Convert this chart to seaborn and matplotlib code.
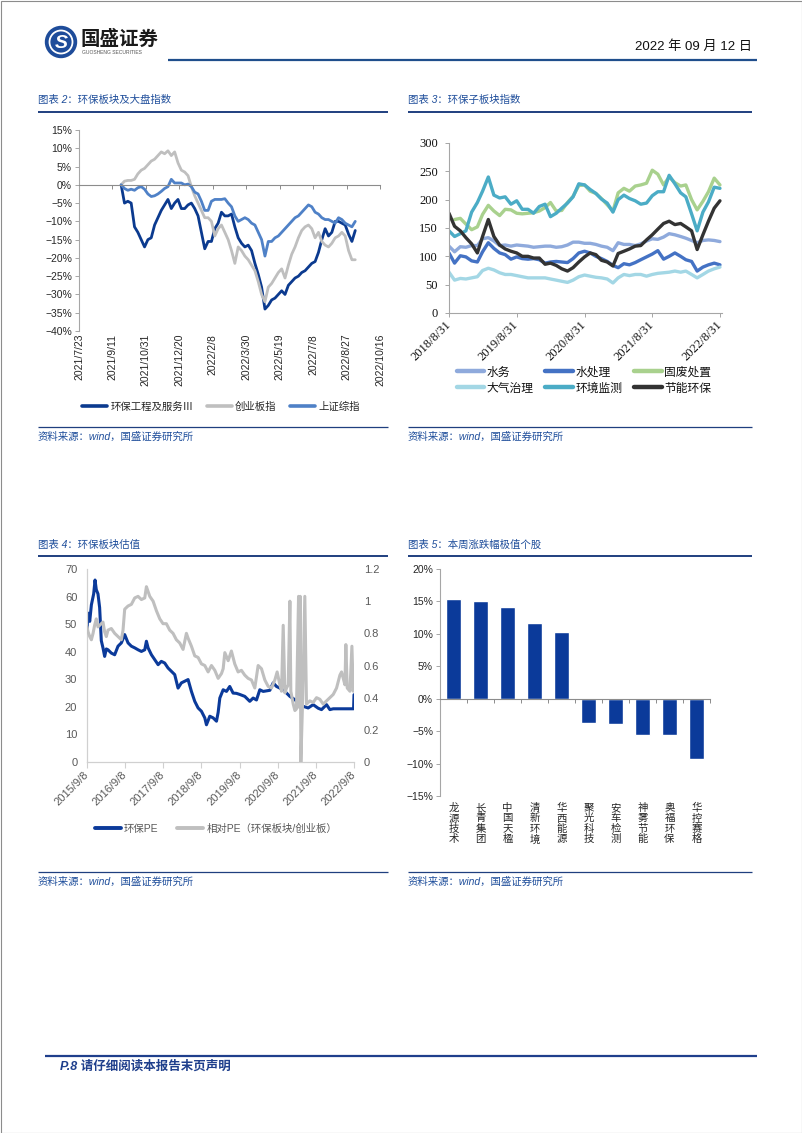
import numpy as np
import pandas as pd
import matplotlib
matplotlib.use("Agg")
import matplotlib.pyplot as plt
import matplotlib.dates as mdates
from matplotlib.lines import Line2D
from matplotlib.patches import Circle, Rectangle
import seaborn as sns

# ---------------- data ----------------
# 图表2 (5-day sampling starting 2021-09-24)
c2_start = "2021-09-24"
c2_names = ["环保工程及服务Ⅲ", "创业板指", "上证综指"]
c2_env = [0, -5, -4.5, -5, -11.5, -13, -15, -17, -15, -14.5,
          -11, -9, -7, -5.5, -4, -6.5, -5, -4, -6.5, -6.5,
          -5.5, -5, -6.5, -8.5, -13, -17.5, -15.5, -15.5, -12, -10.5,
          -7.5, -8.5, -8.5, -8, -11.5, -14.5, -16, -17, -16.5, -18,
          -21.5, -24.5, -28, -34, -33, -31.5, -31, -30, -29, -30,
          -27.5, -26.5, -25.5, -25, -24, -23.5, -22.5, -21.5, -21, -18.5,
          -15, -12, -14, -13, -10, -10, -10.5, -11, -13.5, -15.5, -12.5]
c2_gem = [0, 1, 1.2, 1.2, 1.5, 3, 4, 4.5, 5.5, 6.5,
          7, 8, 9, 8.5, 9.3, 8, 9, 6, 4, 3.5,
          2.5, -0.5, -3, -5, -7, -9, -9, -10, -14, -12,
          -11, -13, -15, -18, -21.5, -17, -18, -19.5, -20.5, -22,
          -23.5, -26.5, -30, -32, -28, -27, -25.5, -24, -23, -25.5,
          -22, -19, -17, -14.5, -12.5, -11.5, -11, -12, -14.5, -13,
          -15.5, -16.5, -17, -16, -14.5, -14, -13, -14, -18, -20.5, -20.5]
c2_sh = [0, -1, -1.5, -1.2, -1.5, -0.8, -0.5, -1.2, -2.5, -3.2,
         -3, -2.5, -1.8, -1, -0.5, 1.5, 0.5, 0.5, 0.5, 0,
         0.2, -0.5, -2, -2.5, -4.5, -7, -7, -4.5, -4, -4,
         -4, -3.8, -5, -6, -8.5, -10, -9.5, -9, -9.5, -10.5,
         -11, -13, -15, -19.5, -15.5, -15.5, -14.5, -14, -13, -12,
         -11, -10, -9, -8.5, -7.5, -6.5, -5.5, -6, -7.5, -8,
         -9, -9.5, -9.5, -10, -10.5, -9, -9.5, -10.5, -11, -11.5, -10]
c2_ticks = ["2021/7/23", "2021/9/11", "2021/10/31", "2021/12/20", "2022/2/8",
            "2022/3/30", "2022/5/19", "2022/7/8", "2022/8/27", "2022/10/16"]

# 图表3 (month ends 2018-08-31 .. 2022-08-31)
c3_names = ["水务", "水处理", "固废处置", "大气治理", "环境监测", "节能环保"]
c3_water = [118, 108, 117, 116, 119, 119, 131, 133, 127, 119,
            120, 118, 120, 119, 118, 116, 117, 118, 118, 116,
            117, 120, 125, 125, 123, 123, 121, 118, 116, 110,
            124, 121, 121, 119, 122, 127, 131, 130, 134, 140,
            138, 135, 132, 128, 124, 128, 129, 128, 126]
c3_treat = [106, 88, 101, 99, 92, 90, 108, 124, 114, 106,
            103, 95, 99, 96, 95, 96, 94, 88, 90, 91,
            90, 89, 96, 106, 109, 106, 100, 96, 91, 84,
            80, 87, 85, 89, 94, 99, 104, 110, 95, 100,
            106, 100, 94, 91, 74, 81, 85, 88, 85]
c3_waste = [np.nan, 165, 167, 157, 147, 152, 174, 190, 180, 172,
            183, 182, 176, 175, 176, 177, 180, 186, 195, 180,
            181, 195, 206, 225, 226, 215, 211, 202, 191, 180,
            212, 220, 215, 224, 226, 229, 252, 245, 226, 240,
            230, 224, 226, 200, 182, 197, 214, 238, 226]
c3_air = [72, 58, 61, 60, 62, 64, 75, 79, 76, 71,
          68, 68, 66, 64, 62, 62, 62, 62, 60, 58,
          56, 54, 58, 64, 67, 65, 63, 62, 60, 53,
          62, 68, 66, 68, 68, 65, 68, 70, 71, 72,
          74, 72, 74, 68, 62, 68, 74, 78, 81]
c3_monitor = [145, 135, 140, 145, 178, 195, 215, 240, 208, 203,
              205, 192, 198, 183, 183, 176, 188, 192, 170, 176,
              185, 194, 205, 228, 226, 218, 211, 201, 194, 178,
              200, 208, 202, 198, 192, 194, 207, 214, 214, 243,
              228, 212, 205, 175, 145, 178, 196, 222, 220]
c3_energy = [176, 153, 145, 133, 122, 106, 135, 165, 135, 120,
             113, 109, 106, 100, 100, 97, 97, 86, 88, 84,
             78, 74, 80, 90, 99, 106, 103, 93, 90, 83,
             105, 109, 113, 118, 119, 129, 138, 148, 158, 162,
             156, 158, 152, 145, 112, 138, 162, 185, 198]
c3_ticks = ["2018/8/31", "2019/8/31", "2020/8/31", "2021/8/31", "2022/8/31"]

# 图表4
c4_names = ["环保PE", "相对PE（环保板块/创业板）"]
c4_pe_dates = ["2015-09-08", "2015-09-18", "2015-10-04", "2015-10-20", "2015-11-11", "2015-11-24", "2015-12-06", "2015-12-22", "2016-01-07", "2016-01-23",
               "2016-02-08", "2016-02-24", "2016-03-11", "2016-03-27", "2016-04-28", "2016-05-30", "2016-07-01", "2016-08-02", "2016-09-03", "2016-10-05",
               "2016-11-06", "2016-12-08", "2017-01-09", "2017-02-10", "2017-03-14", "2017-03-30", "2017-04-15", "2017-05-17", "2017-06-18", "2017-07-20",
               "2017-08-20", "2017-09-21", "2017-10-23", "2017-11-24", "2017-12-26", "2018-01-27", "2018-02-28", "2018-04-01", "2018-05-03", "2018-06-04",
               "2018-07-06", "2018-08-07", "2018-09-08", "2018-10-10", "2018-10-26", "2018-11-27", "2018-12-29", "2019-01-30", "2019-02-15", "2019-03-03",
               "2019-04-04", "2019-05-06", "2019-06-06", "2019-07-08", "2019-08-09", "2019-09-10", "2019-10-28", "2019-12-15", "2020-01-16", "2020-02-17",
               "2020-03-20", "2020-04-21", "2020-06-24", "2020-07-26", "2020-08-27", "2020-09-28", "2020-11-15", "2021-01-02", "2021-02-19", "2021-04-07",
               "2021-05-09", "2021-06-26", "2021-08-13", "2021-09-30", "2021-11-01", "2021-12-19", "2022-01-20", "2022-02-21", "2022-09-04", "2022-09-08"]
c4_pe = [48, 54, 51, 57, 61, 66, 62.5, 61, 56, 44,
         41.4, 38.3, 41, 40.7, 39.5, 38.9, 42, 43.2, 46.2, 43.2,
         42, 41.4, 40.7, 40.1, 40.7, 43.8, 41.4, 38.9, 37.1, 35.3,
         36.5, 35.9, 34.1, 32.9, 31.7, 26.8, 28.7, 29.3, 29.9, 25.6,
         22, 19.6, 18.4, 16, 13.5, 16.6, 16, 14.8, 18, 23.2,
         26.2, 25.6, 27.4, 25, 24.9, 24.5, 23.8, 22, 23.2, 22.5,
         26.2, 25.6, 26, 28.7, 27.4, 26.8, 25.6, 23.8, 22.6, 20.8,
         20.2, 19.6, 20.8, 19.5, 19, 20.8, 19, 19.3, 19.3, 24.4]
c4_rel_dates = ["2015-09-08", "2015-09-18", "2015-10-04", "2015-10-20", "2015-11-05", "2015-11-20", "2015-12-06", "2015-12-22", "2016-01-23", "2016-02-08",
                "2016-02-24", "2016-03-11", "2016-03-27", "2016-04-28", "2016-05-30", "2016-07-01", "2016-08-02", "2016-08-18", "2016-09-03", "2016-10-05",
                "2016-11-06", "2016-12-08", "2017-01-09", "2017-02-10", "2017-03-14", "2017-03-30", "2017-04-15", "2017-05-01", "2017-06-02", "2017-07-04",
                "2017-08-05", "2017-09-05", "2017-10-07", "2017-11-08", "2017-12-10", "2018-01-11", "2018-02-12", "2018-03-16", "2018-04-17", "2018-05-03",
                "2018-06-04", "2018-07-06", "2018-08-07", "2018-09-08", "2018-10-10", "2018-11-11", "2018-12-13", "2019-01-14", "2019-02-15", "2019-03-19",
                "2019-04-04", "2019-04-20", "2019-05-22", "2019-06-22", "2019-07-24", "2019-08-25", "2019-09-26", "2019-10-28", "2019-11-29", "2019-12-31",
                "2020-02-01", "2020-03-04", "2020-04-05", "2020-05-07", "2020-06-08", "2020-07-10", "2020-08-11", "2020-09-02", "2020-09-28", "2020-10-14",
                "2020-10-30", "2020-11-15", "2020-12-01", "2020-12-17", "2021-01-02", "2021-01-11", "2021-02-03", "2021-02-19", "2021-03-06", "2021-03-26",
                "2021-04-01", "2021-04-11", "2021-04-17", "2021-05-03", "2021-05-25", "2021-06-10", "2021-07-12", "2021-08-13", "2021-09-14", "2021-10-16",
                "2021-11-17", "2021-12-19", "2022-01-20", "2022-02-21", "2022-03-25", "2022-04-26", "2022-05-12", "2022-05-28", "2022-06-13", "2022-06-22",
                "2022-07-05", "2022-07-31", "2022-08-19", "2022-09-01", "2022-09-08"]
c4_rel = [0.84, 0.81, 0.78, 0.76, 0.80, 0.85, 0.89, 0.84, 0.86, 0.87,
          0.81, 0.78, 0.82, 0.83, 0.80, 0.78, 0.76, 0.82, 0.95, 0.97,
          0.98, 1.02, 1.03, 1.01, 1.02, 1.09, 1.06, 1.03, 1.00, 0.94,
          0.89, 0.86, 0.86, 0.82, 0.80, 0.76, 0.74, 0.70, 0.80, 0.77,
          0.72, 0.66, 0.65, 0.61, 0.60, 0.56, 0.60, 0.57, 0.52, 0.55,
          0.58, 0.68, 0.63, 0.69, 0.61, 0.56, 0.57, 0.54, 0.52, 0.51,
          0.46, 0.60, 0.58, 0.51, 0.47, 0.46, 0.51, 0.56, 0.48, 0.44,
          0.85, 0.43, 0.46, 0.48, 1.00, 0.44, 0.36, 0.32, 0.33, 1.03,
          0.34, 1.03, 0.00, 0.36, 1.03, 0.36, 0.38, 0.37, 0.40, 0.39,
          0.36, 0.38, 0.40, 0.42, 0.46, 0.54, 0.56, 0.52, 0.48, 0.73,
          0.46, 0.44, 0.72, 0.44, 0.49]
c4_ticks = ["2015/9/8", "2016/9/8", "2017/9/8", "2018/9/8", "2019/9/8",
            "2020/9/8", "2021/9/8", "2022/9/8"]
c4_left_ticks = [0, 10, 20, 30, 40, 50, 60, 70]
c4_right_ticks = [0, 0.2, 0.4, 0.6, 0.8, 1.0, 1.2]
c4_right_labels = ["0", "0.2", "0.4", "0.6", "0.8", "1", "1.2"]

# 图表5
c5_names = ["龙源技术", "长青集团", "中国天楹", "清新环境", "华西能源",
            "聚光科技", "安车检测", "神雾节能", "奥福环保", "华控赛格"]
c5_vals = [15.3, 15.0, 14.2, 11.7, 10.3, -3.8, -3.9, -5.6, -5.6, -9.3]

# ---------------- style ----------------
sns.set_theme(style="ticks")
plt.rcParams["font.family"] = ["Liberation Sans", "Noto Sans CJK SC", "DejaVu Sans"]
plt.rcParams["axes.unicode_minus"] = True

W, H = 802, 1133
fig = plt.figure(figsize=(W / 100, H / 100), dpi=100)
fig.patch.set_facecolor("white")

BLUE = "#1F4E9B"
LINE = "#1F3F7F"
GRID = "#A6A6A6"


def px_axes(l, t, r, b):
    return fig.add_axes([l / W, 1 - b / H, (r - l) / W, (b - t) / H])


def pct(v):
    return f"{v}%".replace("-", "\u2212")


ov = fig.add_axes([0, 0, 1, 1])
ov.set_xlim(0, W)
ov.set_ylim(H, 0)
ov.axis("off")

# page frame
ov.add_patch(Rectangle((0.5, 0.5), W - 1, H - 1, fill=False, ec="#8C8C8C", lw=0.8))

# header
ov.add_patch(Circle((61, 42), 15.5, color="#1E4C9A"))
ov.add_patch(Circle((61, 42), 11.5, fill=False, ec="white", lw=1.3))
ov.text(61, 43, "S", color="white", fontsize=14, fontweight="bold", style="italic",
        ha="center", va="center")
ov.text(81, 39, "国盛证券", fontsize=14, fontweight="bold", color="#1a1a1a",
        ha="left", va="center")
ov.text(82, 53, "GUOSHENG SECURITIES", fontsize=3.6, color="#555555", ha="left", va="center")
ov.text(752, 47, "2022 年 09 月 12 日", fontsize=9.5, color="#111111", ha="right", va="center")
ov.plot([168, 757], [60, 60], color="#1F4E8C", lw=1.6, solid_capstyle="butt")

# footer
ov.plot([45, 757], [1056, 1056], color="#1F3F8C", lw=1.6, solid_capstyle="butt")
ov.text(60, 1067, "P.8 请仔细阅读本报告末页声明", fontsize=9, fontweight="bold", style="italic",
        color="#1F3F8C", ha="left", va="center")


def block(x0, x1, y_title, y_line, y_sline, y_src, title):
    ov.text(x0, y_title, title, fontsize=7.5, color=BLUE, style="italic", ha="left", va="center")
    ov.plot([x0, x1], [y_line, y_line], color=LINE, lw=1.4, solid_capstyle="butt")
    ov.plot([x0, x1], [y_sline, y_sline], color=LINE, lw=0.9, solid_capstyle="butt")
    ov.text(x0, y_src, "资料来源：wind，国盛证券研究所", fontsize=7.5, color=BLUE,
            style="italic", ha="left", va="center")


block(38, 388, 100, 111.5, 427, 437, "图表 2：环保板块及大盘指数")
block(408, 752, 100, 111.5, 427, 437, "图表 3：环保子板块指数")
block(38, 388, 545, 556, 872, 882, "图表 4：环保板块估值")
block(408, 752, 545, 556, 872, 882, "图表 5：本周涨跌幅极值个股")

# ---------------- chart 2 ----------------
c2_colors = ["#0B3A8F", "#BFBFBF", "#4F81C7"]
d2 = pd.date_range(c2_start, periods=len(c2_env), freq="5D")
df2 = pd.DataFrame({
    "date": np.tile(d2, 3),
    "value": c2_env + c2_gem + c2_sh,
    "series": np.repeat(c2_names, len(d2)),
})
ax2 = px_axes(79, 130, 380, 331)
sns.lineplot(data=df2, x="date", y="value", hue="series", hue_order=c2_names,
             palette=c2_colors, linewidth=2.0, estimator=None, legend=False, ax=ax2)
t2 = pd.to_datetime(c2_ticks, format="%Y/%m/%d")
ax2.set_xlim(t2[0], t2[-1])
ax2.set_ylim(-40, 15)
ax2.set_xlabel("")
ax2.set_ylabel("")
ax2.spines["top"].set_visible(False)
ax2.spines["right"].set_visible(False)
ax2.spines["left"].set_color(GRID)
ax2.spines["left"].set_linewidth(0.8)
ax2.spines["bottom"].set_position(("data", 0))
ax2.spines["bottom"].set_color("#8C8C8C")
ax2.spines["bottom"].set_linewidth(0.8)
ax2.set_xticks(t2)
ax2.tick_params(axis="x", bottom=True, length=3, width=0.7, color="#8C8C8C", labelbottom=False)
yt2 = list(range(-40, 16, 5))
ax2.set_yticks(yt2)
ax2.set_yticklabels([pct(v) for v in yt2])
ax2.tick_params(axis="y", left=True, length=3, width=0.7, color=GRID, pad=2,
                labelsize=7.5, labelcolor="#262626")
sec2 = ax2.secondary_xaxis("bottom")
sec2.set_xticks(mdates.date2num(t2))
sec2.set_xticklabels(c2_ticks, rotation=90, fontsize=7.5, color="#262626")
sec2.tick_params(length=0, pad=2)
sec2.spines["bottom"].set_visible(False)

h2 = [Line2D([], [], color=c, lw=2.6) for c in c2_colors]
fig.legend(h2, c2_names, loc="center", bbox_to_anchor=(221 / W, 1 - 407 / H), ncol=3,
           frameon=False, fontsize=7.5, handlelength=2.4, handletextpad=0.3,
           columnspacing=1.3, borderpad=0, labelcolor="#262626")

# ---------------- chart 3 ----------------
c3_colors = ["#8FAADC", "#4472C4", "#A9D18E", "#A3D7E5", "#4BACC6", "#333333"]
d3 = pd.date_range("2018-09-01", periods=len(c3_water), freq="MS") - pd.Timedelta(days=1)
c3_vals = [c3_water, c3_treat, c3_waste, c3_air, c3_monitor, c3_energy]
df3 = pd.DataFrame({
    "date": np.tile(d3, len(c3_names)),
    "value": np.concatenate([np.asarray(v, dtype=float) for v in c3_vals]),
    "series": np.repeat(c3_names, len(d3)),
})
ax3 = px_axes(449, 143, 722, 313)
sns.lineplot(data=df3, x="date", y="value", hue="series", hue_order=c3_names,
             palette=c3_colors, linewidth=2.4, estimator=None, legend=False, ax=ax3)
t3 = pd.to_datetime(c3_ticks, format="%Y/%m/%d")
ax3.set_xlim(t3[0], pd.Timestamp("2022-09-11"))
ax3.set_ylim(0, 300)
ax3.set_xlabel("")
ax3.set_ylabel("")
for s in ["top", "right"]:
    ax3.spines[s].set_visible(False)
for s in ["left", "bottom"]:
    ax3.spines[s].set_color(GRID)
    ax3.spines[s].set_linewidth(0.8)
ax3.set_xticks(t3)
ax3.set_xticklabels(c3_ticks, rotation=45, ha="right", va="center", rotation_mode="anchor",
                    fontfamily="Liberation Serif", fontsize=9, color="#111111")
ax3.set_yticks(range(0, 301, 50))
ax3.set_yticklabels([str(v) for v in range(0, 301, 50)], fontfamily="Liberation Serif",
                    fontsize=9, color="#111111")
ax3.tick_params(axis="x", bottom=True, length=3, width=0.7, color=GRID, pad=4)
ax3.tick_params(axis="y", left=True, length=3, width=0.7, color=GRID, pad=5)

h3 = [Line2D([], [], color=c, lw=3.2) for c in c3_colors]
order = [0, 3, 1, 4, 2, 5]
fig.legend([h3[i] for i in order], [c3_names[i] for i in order], loc="center",
           bbox_to_anchor=(584 / W, 1 - 380.5 / H), ncol=3, frameon=False, fontsize=8.5,
           handlelength=2.3, handletextpad=0.25, columnspacing=1.0, labelspacing=0.35,
           borderpad=0, labelcolor="#111111")

# ---------------- chart 4 ----------------
GRAY_TXT = "#595959"
ax4 = px_axes(87, 569, 354, 762)
sns.lineplot(x=pd.to_datetime(c4_pe_dates), y=c4_pe, color="#0B3A9A", linewidth=2.2,
             estimator=None, ax=ax4)
ax4r = ax4.twinx()
sns.lineplot(x=pd.to_datetime(c4_rel_dates), y=c4_rel, color="#BFBFBF", linewidth=2.2,
             estimator=None, ax=ax4r)
t4 = pd.to_datetime(c4_ticks, format="%Y/%m/%d")
ax4.set_xlim(t4[0], t4[-1])
ax4.set_ylim(0, 70)
ax4r.set_ylim(0, 1.2)
for a in (ax4, ax4r):
    a.set_xlabel("")
    a.set_ylabel("")
    a.spines["top"].set_visible(False)
    a.spines["right"].set_visible(False)
ax4r.spines["left"].set_visible(False)
ax4r.spines["bottom"].set_visible(False)
ax4.spines["left"].set_color("#D0D0D0")
ax4.spines["bottom"].set_color("#D0D0D0")
ax4.spines["left"].set_linewidth(0.9)
ax4.spines["bottom"].set_linewidth(0.9)
ax4.set_xticks(t4)
ax4.set_xticklabels(c4_ticks, rotation=45, ha="right", va="center", rotation_mode="anchor",
                    fontsize=8, color=GRAY_TXT)
ax4.tick_params(axis="x", bottom=True, length=4, width=0.8, color="#D0D0D0", pad=4)
ax4.set_yticks(c4_left_ticks)
ax4.set_yticklabels([str(v) for v in c4_left_ticks], fontsize=8, color=GRAY_TXT)
ax4.tick_params(axis="y", left=False, length=0, pad=7)
ax4r.set_yticks(c4_right_ticks)
ax4r.set_yticklabels(c4_right_labels, fontsize=8, color=GRAY_TXT)
ax4r.tick_params(axis="y", right=False, left=False, length=0, pad=7, labelright=True)

h4 = [Line2D([], [], color="#0B3A9A", lw=2.8), Line2D([], [], color="#BFBFBF", lw=2.8)]
fig.legend(h4, c4_names, loc="center", bbox_to_anchor=(216 / W, 1 - 829 / H), ncol=2,
           frameon=False, fontsize=7.5, handlelength=2.5, handletextpad=0.3,
           columnspacing=1.8, borderpad=0, labelcolor=GRAY_TXT)

# ---------------- chart 5 ----------------
ax5 = px_axes(440, 569, 710, 796)
sns.barplot(x=c5_names, y=c5_vals, color="#0B3A9A", saturation=1, width=0.56, ax=ax5)
ax5.set_xlim(-0.5, len(c5_names) - 0.5)
ax5.set_ylim(-15, 20)
ax5.set_xlabel("")
ax5.set_ylabel("")
ax5.spines["top"].set_visible(False)
ax5.spines["right"].set_visible(False)
ax5.spines["left"].set_color(GRID)
ax5.spines["left"].set_linewidth(0.8)
ax5.spines["bottom"].set_position(("data", 0))
ax5.spines["bottom"].set_color("#8C8C8C")
ax5.spines["bottom"].set_linewidth(0.8)
ax5.set_xticks(np.arange(len(c5_names)) + 0.5)
ax5.tick_params(axis="x", bottom=True, length=3, width=0.7, color="#8C8C8C", labelbottom=False)
yt5 = list(range(-15, 21, 5))
ax5.set_yticks(yt5)
ax5.set_yticklabels([pct(v) for v in yt5])
ax5.tick_params(axis="y", left=True, length=3, width=0.7, color=GRID, pad=2,
                labelsize=7.5, labelcolor="#262626")
sec5 = ax5.secondary_xaxis("bottom")
sec5.set_xticks(np.arange(len(c5_names)))
sec5.set_xticklabels(["\n".join(n) for n in c5_names], fontsize=7.5, color="#262626",
                     linespacing=1.05)
sec5.tick_params(length=0, pad=5)
sec5.spines["bottom"].set_visible(False)

fig.savefig("out.png", dpi=100, facecolor="white")
